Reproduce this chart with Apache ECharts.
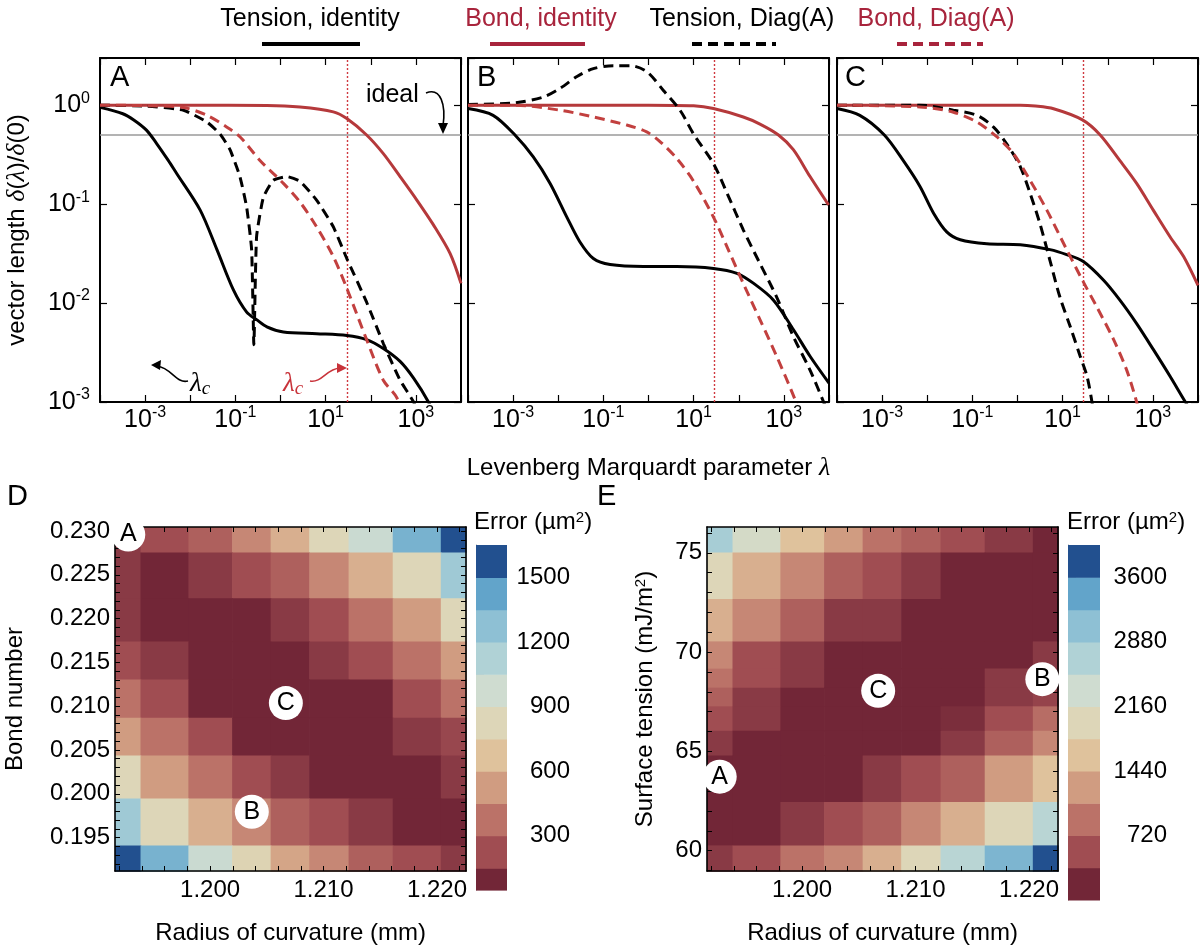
<!DOCTYPE html>
<html>
<head>
<meta charset="utf-8">
<script src="https://cdn.jsdelivr.net/npm/echarts@6.0.0/dist/echarts.min.js"></script>
<style>
html,body{margin:0;padding:0;background:#fff;}
#chart{width:1204px;height:946px;}
</style>
</head>
<body>
<div id="chart"></div>
<script>
// ======================= DATA =======================
const seriesNames = ['Tension, identity', 'Bond, identity', 'Tension, Diag(A)', 'Bond, Diag(A)'];
const panelNames = ['A', 'B', 'C'];

// [lambda, delta(lambda)/delta(0)]
const tensionIdentityA = [[1e-4,0.95],[3.2e-4,0.82],[5.6e-4,0.71],[1.07e-3,0.56],[1.8e-3,0.41],[3.2e-3,0.28],[5.0e-3,0.204],[1.66e-2,0.087],[3.9e-2,0.0347],[9.1e-2,0.0135],[0.178,8.1e-3],[0.295,6.8e-3],[0.50,5.75e-3],[1.16,5.1e-3],[6.3,4.9e-3],[29.5,4.7e-3],[81,4.27e-3],[190,3.47e-3],[447,2.57e-3],[890,1.74e-3],[1900,1.0e-3],[4000,5e-4]];
const bondIdentityA = [[1e-4,1.0],[1e-2,1.0],[0.5,0.995],[2.7,0.96],[14.8,0.857],[29.5,0.733],[81,0.50],[190,0.324],[447,0.19],[1050,0.11],[2450,0.0617],[5750,0.0316],[1e4,0.0158]];
const tensionDiagA = [[1e-4,1.0],[1.07e-3,0.98],[7.1e-3,0.89],[2.34e-2,0.676],[4.6e-2,0.51],[7.6e-2,0.355],[0.126,0.19],[0.178,0.093],[0.229,0.0347],[0.257,3.8e-3],[0.295,0.0468],[0.417,0.117],[0.69,0.174],[1.38,0.19],[2.7,0.17],[6.3,0.11],[14.8,0.059],[29.5,0.0282],[81,0.0102],[190,3.9e-3],[447,1.66e-3],[890,1.0e-3],[1600,5e-4]];
const bondDiagA = [[1e-4,1.0],[1.07e-3,0.99],[7.1e-3,0.946],[2.34e-2,0.79],[6.5e-2,0.60],[0.126,0.48],[0.355,0.275],[1.16,0.162],[2.7,0.105],[6.3,0.059],[14.8,0.0295],[29.5,0.0141],[81,4.27e-3],[190,1.66e-3],[380,1.1e-3],[630,5e-4]];

const tensionIdentityB = [[1e-4,0.925],[3.6e-4,0.79],[1.1e-3,0.50],[2.8e-3,0.30],[6.6e-3,0.162],[1.55e-2,0.074],[3.0e-2,0.0417],[6.0e-2,0.0282],[0.141,0.0245],[0.776,0.0234],[4.27,0.0234],[27.5,0.0224],[91,0.020],[214,0.0158],[589,0.0107],[1620,5.4e-3],[3800,2.9e-3],[1e4,1.55e-3]];
const bondIdentityB = [[1e-4,1.0],[1e-2,1.0],[1,1.0],[10,0.985],[27.5,0.925],[126,0.76],[295,0.645],[760,0.50],[1620,0.355],[3800,0.19],[9800,0.098]];
const tensionDiagB = [[1e-4,1.016],[1.1e-3,1.057],[4.7e-3,1.21],[1.1e-2,1.48],[2.6e-2,1.95],[6.0e-2,2.34],[0.166,2.51],[0.39,2.51],[0.91,2.19],[2.14,1.41],[5.0,0.89],[10,0.51],[27.5,0.257],[55,0.129],[126,0.055],[295,0.0251],[692,0.0115],[1620,4.6e-3],[3800,2.1e-3],[7600,1.0e-3],[1.2e4,6e-4]];
const bondDiagB = [[1e-4,1.0],[1.1e-3,1.0],[1.1e-2,0.89],[6.0e-2,0.76],[0.33,0.63],[0.91,0.537],[1.82,0.427],[4.27,0.288],[10,0.17],[27.5,0.074],[55,0.037],[126,0.0158],[295,6.8e-3],[692,2.9e-3],[1780,1.05e-3],[3160,5e-4]];

const tensionIdentityC = [[1e-4,0.925],[3.2e-4,0.79],[1.12e-3,0.50],[2.95e-3,0.275],[6.9e-3,0.151],[1.38e-2,0.081],[2.7e-2,0.0525],[5.4e-2,0.0437],[0.209,0.0398],[1.15,0.0389],[5.25,0.0347],[12.3,0.0309],[28.8,0.0263],[81,0.017],[186,0.0107],[437,6.2e-3],[1020,3.4e-3],[2400,1.82e-3],[5250,1.0e-3],[1e4,6.3e-4]];
const bondIdentityC = [[1e-4,1.0],[1e-2,1.0],[1.15,1.0],[2.5,0.98],[6.3,0.92],[27.5,0.71],[68,0.50],[186,0.275],[437,0.162],[1020,0.087],[2400,0.0468],[4800,0.0295],[1e4,0.0151]];
const tensionDiagC = [[1e-4,1.0],[6.9e-3,1.0],[3.8e-2,0.89],[0.126,0.79],[0.295,0.60],[0.575,0.407],[1.15,0.24],[1.9,0.129],[3.16,0.063],[5.25,0.0269],[8.7,0.0115],[14.8,5.75e-3],[24.5,2.9e-3],[34.7,1.82e-3],[44.7,1.0e-3],[56,5e-4]];
const bondDiagC = [[1e-4,1.0],[6.9e-3,0.96],[3.8e-2,0.85],[0.126,0.676],[0.347,0.48],[0.81,0.324],[1.9,0.174],[4.47,0.087],[12.3,0.0347],[27.5,0.017],[57.5,9.1e-3],[135,4.27e-3],[263,2.1e-3],[437,1.0e-3],[630,5e-4]];

const lambdaCritTension = [1.1e-3, 1.1e-3, 1.1e-3];
const lambdaCritBond = [30, 28, 29];
const idealLevel = 0.5;

// Heatmaps: cell edges (data units) and error values (rows listed top -> bottom)
const radiusEdges = [1.19162, 1.19387, 1.19809, 1.20194, 1.20534, 1.20874, 1.21221, 1.21610, 1.22034, 1.22256];
const bondEdges = [0.23046, 0.22754, 0.22231, 0.21738, 0.21304, 0.20867, 0.20438, 0.19945, 0.19409, 0.19118];
const errorD = [
  [150, 225, 300, 450, 600, 825, 1000, 1350, 1575],
  [150, 75, 150, 225, 300, 450, 600, 825, 1200],
  [150, 75, 75, 75, 150, 225, 375, 525, 825],
  [225, 150, 75, 75, 75, 150, 225, 375, 525],
  [375, 225, 75, 75, 75, 75, 75, 225, 375],
  [525, 375, 225, 75, 75, 75, 75, 150, 200],
  [825, 525, 375, 225, 150, 75, 75, 75, 150],
  [1200, 825, 600, 450, 300, 225, 150, 75, 75],
  [1575, 1350, 1000, 800, 560, 450, 300, 225, 150]
];
const tensionEdges = [76.30, 75.02, 72.68, 70.54, 69.17, 68.21, 67.27, 66.04, 64.80, 62.46, 60.27, 58.98];
const errorE = [
  [2800, 2200, 1620, 1260, 900, 720, 540, 360, 180],
  [1980, 1440, 1080, 720, 540, 360, 180, 180, 180],
  [1440, 1080, 720, 360, 360, 180, 180, 180, 180],
  [1080, 540, 360, 180, 180, 180, 180, 180, 360],
  [900, 540, 360, 180, 180, 180, 180, 360, 360],
  [720, 360, 180, 180, 180, 180, 180, 360, 450],
  [540, 360, 180, 180, 180, 180, 250, 540, 850],
  [360, 180, 180, 180, 180, 180, 360, 720, 1080],
  [180, 180, 180, 180, 360, 540, 720, 1260, 1620],
  [180, 180, 360, 540, 720, 1080, 1440, 1980, 2600],
  [360, 540, 900, 1080, 1440, 1980, 2600, 3200, 3780]
];
const radiusTickLabels = [1.200, 1.210, 1.220];
const bondTickLabels = [0.195, 0.200, 0.205, 0.210, 0.215, 0.220, 0.225, 0.230];
const tensionTickLabels = [60, 65, 70, 75];
const errorBinEdgesD = [48, 150, 300, 450, 600, 750, 900, 1050, 1200, 1350, 1500, 1650];
const errorBinEdgesE = [0, 360, 720, 1080, 1440, 1800, 2160, 2520, 2880, 3240, 3600, 3960];
const errorLabelsD = [300, 600, 900, 1200, 1500];
const errorLabelsE = [720, 1440, 2160, 2880, 3600];
const palette = ['#722637','#a04d52','#bb7268','#d09c81','#dfc29c','#ddd6b8','#cfdcd0','#b0d2d6','#8ec0d4','#62a4ca','#22508f'];
const markersD = [['A', 1.19279, 0.2296], ['B', 1.20368, 0.19795], ['C', 1.20668, 0.21035]];
const markersE = [['A', 1.19274, 63.73], ['B', 1.22118, 68.64], ['C', 1.20671, 68.05]];

// ======================= CHART =======================
const FONT = '"Liberation Sans", Arial, Helvetica, sans-serif';
const SERIF = '"Liberation Serif", "DejaVu Serif", serif';
const RED = '#b5393b';
const RED2 = '#c2403f';
const LEG_RED = '#a8243c';
const FS = 24;   // general text size
const TFS = 24;  // tick label size

const grids = [], xAxes = [], yAxes = [], series = [];

function logFmt(showEven) {
  return function (v) {
    const e = Math.round(Math.log10(v));
    if (Math.abs(v / Math.pow(10, e) - 1) > 1e-6) return '';
    if (!showEven && e % 2 === 0) return '';
    return '{b|10}{s|' + e + '}';
  };
}
const logRich = {
  b: {fontSize: 25, fontFamily: FONT, color: '#000', lineHeight: 30},
  s: {fontSize: 16, fontFamily: FONT, color: '#000', lineHeight: 17, verticalAlign: 'top'}
};
const italicRich = {i: {fontStyle: 'italic', fontFamily: SERIF, fontSize: 26, color: '#000'}};

const topLeft = [100, 468, 837];
const panelSeries = [
  [tensionIdentityA, bondIdentityA, tensionDiagA, bondDiagA],
  [tensionIdentityB, bondIdentityB, tensionDiagB, bondDiagB],
  [tensionIdentityC, bondIdentityC, tensionDiagC, bondDiagC]
];
const lineStyles = [
  {color: '#000', type: 'solid'},
  {color: RED, type: 'solid'},
  {color: '#000', type: [10, 6]},
  {color: RED2, type: [10, 6]}
];

topLeft.forEach((left, i) => {
  const gi = grids.length;
  grids.push({left: left, top: 58, width: 361, height: 344});
  const xi = xAxes.length, yi = yAxes.length;
  const baseX = {gridIndex: gi, type: 'log', logBase: 10, min: 1e-4, max: 1e4, splitLine: {show: false},
    axisLine: {onZero: false, lineStyle: {color: '#000', width: 2}},
    axisTick: {inside: true, length: 7, lineStyle: {color: '#000', width: 1.2}}};
  xAxes.push(Object.assign({}, baseX, {position: 'bottom',
    axisLabel: {formatter: logFmt(false), margin: 3, rich: logRich},
    name: i === 1 ? 'Levenberg Marquardt parameter {i|λ}' : '', nameLocation: 'middle', nameGap: 53,
    nameTextStyle: {fontSize: FS, fontFamily: FONT, color: '#000', rich: italicRich}}));
  xAxes.push(Object.assign({}, baseX, {position: 'top', axisLabel: {show: false}}));
  const baseY = {gridIndex: gi, type: 'log', logBase: 10, min: 1e-3, max: 3, splitLine: {show: false},
    axisLine: {onZero: false, lineStyle: {color: '#000', width: 2}},
    axisTick: {inside: true, length: 7, lineStyle: {color: '#000', width: 1.2}}};
  yAxes.push(Object.assign({}, baseY, {position: 'left',
    axisLabel: {show: i === 0, formatter: logFmt(true), margin: 10, rich: logRich},
    name: i === 0 ? 'vector length {i|δ}({i|λ})/{i|δ}(0)' : '', nameLocation: 'middle', nameGap: 70, nameRotate: 90,
    nameTextStyle: {fontSize: FS, fontFamily: FONT, color: '#000', rich: italicRich}}));
  yAxes.push(Object.assign({}, baseY, {position: 'right', axisLabel: {show: false}}));

  panelSeries[i].forEach((d, k) => {
    const s = {
      type: 'line', name: seriesNames[k], xAxisIndex: xi, yAxisIndex: yi, data: d,
      showSymbol: false, symbol: 'none', smooth: (i === 0 && k === 2) ? 0.15 : 0.3,
      lineStyle: {color: lineStyles[k].color, type: lineStyles[k].type, width: 3},
      z: 3, silent: true, animation: false
    };
    if (k === 0) {
      s.markLine = {
        symbol: 'none', silent: true, z: 1, animation: false, label: {show: false},
        data: [
          {yAxis: idealLevel, lineStyle: {color: '#9a9a9a', type: 'solid', width: 1.6}},
          {xAxis: lambdaCritTension[i], lineStyle: {color: '#000', type: [2, 2], width: 1.4}},
          {xAxis: lambdaCritBond[i], lineStyle: {color: '#cf3a40', type: [2, 2], width: 1.4}}
        ]
      };
    }
    series.push(s);
  });
});

// --------- heatmaps ---------
function cells(xEdges, yEdges, rows) {
  const out = [];
  rows.forEach((row, r) => row.forEach((v, c) => out.push([xEdges[c], xEdges[c + 1], yEdges[r + 1], yEdges[r], v])));
  return out;
}
function renderCell(params, api) {
  const a = api.coord([api.value(0), api.value(3)]);
  const b = api.coord([api.value(1), api.value(2)]);
  return {type: 'rect', shape: {x: a[0], y: a[1], width: b[0] - a[0] + 0.7, height: b[1] - a[1] + 0.7},
    style: {fill: api.visual('color')}};
}
function steps(a, b, s) { const o = []; for (let v = a; v <= b + s / 10; v += s) o.push(+v.toFixed(4)); return o; }

const heatDefs = [
  {left: 115, yEdges: bondEdges, rows: errorD, yLabels: bondTickLabels, yTicks: steps(0.192, 0.230, 0.001),
   yFmt: v => v.toFixed(3), yName: 'Bond number', yGap: 88, markers: markersD},
  {left: 707, yEdges: tensionEdges, rows: errorE, yLabels: tensionTickLabels, yTicks: steps(59, 76, 1),
   yFmt: v => String(v), yName: 'Surface tension (mJ/m{sup|2})', yGap: 50, markers: markersE}
];
const heatSeriesIdx = [];
heatDefs.forEach((h) => {
  const gi = grids.length;
  grids.push({left: h.left, top: 527, width: 351, height: 351});
  const xi = xAxes.length, yi = yAxes.length;
  const xTicks = steps(1.192, 1.222, 0.002);
  const ymin = h.yEdges[h.yEdges.length - 1], ymax = h.yEdges[0];
  const baseX = {gridIndex: gi, type: 'value', min: radiusEdges[0], max: radiusEdges[radiusEdges.length - 1], z: 5,
    splitLine: {show: false}, axisLine: {onZero: false, lineStyle: {color: '#000', width: 1.6}},
    axisTick: {inside: true, length: 5, customValues: xTicks, lineStyle: {color: '#000', width: 1}}};
  xAxes.push(Object.assign({}, baseX, {position: 'bottom',
    axisLabel: {customValues: radiusTickLabels, formatter: v => v.toFixed(3), fontSize: TFS, fontFamily: FONT, color: '#000', margin: 7},
    name: 'Radius of curvature (mm)', nameLocation: 'middle', nameGap: 50,
    nameTextStyle: {fontSize: FS, fontFamily: FONT, color: '#000'}}));
  xAxes.push(Object.assign({}, baseX, {position: 'top', axisLabel: {show: false}}));
  const baseY = {gridIndex: gi, type: 'value', min: ymin, max: ymax, z: 5,
    splitLine: {show: false}, axisLine: {onZero: false, lineStyle: {color: '#000', width: 1.6}},
    axisTick: {inside: true, length: 5, customValues: h.yTicks, lineStyle: {color: '#000', width: 1}}};
  yAxes.push(Object.assign({}, baseY, {position: 'left',
    axisLabel: {customValues: h.yLabels, formatter: h.yFmt, fontSize: TFS, fontFamily: FONT, color: '#000', margin: 5},
    name: h.yName, nameLocation: 'middle', nameGap: h.yGap, nameRotate: 90,
    nameTextStyle: {fontSize: FS, fontFamily: FONT, color: '#000', rich: {sup: {fontSize: 15, fontFamily: FONT, verticalAlign: 'top', lineHeight: 13}}}}));
  yAxes.push(Object.assign({}, baseY, {position: 'right', axisLabel: {show: false}}));
  heatSeriesIdx.push(series.length);
  series.push({type: 'custom', xAxisIndex: xi, yAxisIndex: yi, renderItem: renderCell,
    encode: {x: [0, 1], y: [2, 3]}, data: cells(radiusEdges, h.yEdges, h.rows), z: 2, silent: true, animation: false});
  series.push({type: 'scatter', xAxisIndex: xi, yAxisIndex: yi, clip: false, z: 10, silent: true, animation: false,
    symbolSize: 34, itemStyle: {color: '#fff', opacity: 1},
    data: h.markers.map(m => ({value: [m[1], m[2]], name: m[0]})),
    label: {show: true, position: 'inside', formatter: p => p.name, fontSize: 25, fontFamily: FONT, color: '#000'}});
});

// --------- colorbars ---------
const cbDefs = [
  {left: 476, top: 545, width: 31, height: 345, edges: errorBinEdgesD, labels: errorLabelsD, margin: 63},
  {left: 1068, top: 545, width: 32, height: 355, edges: errorBinEdgesE, labels: errorLabelsE, margin: 67}
];
cbDefs.forEach((c) => {
  const gi = grids.length;
  grids.push({left: c.left, top: c.top, width: c.width, height: c.height});
  const xi = xAxes.length, yi = yAxes.length;
  xAxes.push({gridIndex: gi, type: 'value', min: 0, max: 1, show: false});
  yAxes.push({gridIndex: gi, type: 'value', position: 'right', min: c.edges[0], max: c.edges[c.edges.length - 1],
    splitLine: {show: false}, axisLine: {show: true, lineStyle: {color: '#999', width: 1}},
    axisTick: {show: true, inside: false, length: 8, customValues: c.edges.slice(1, -1), lineStyle: {color: '#bbb', width: 1}},
    axisLabel: {customValues: c.labels, formatter: v => String(v), align: 'right', margin: c.margin, fontSize: TFS, fontFamily: FONT, color: '#000'}});
  const data = [];
  for (let k = 0; k < c.edges.length - 1; k++) data.push([c.edges[k], c.edges[k + 1], k]);
  series.push({type: 'custom', xAxisIndex: xi, yAxisIndex: yi, silent: true, animation: false, z: 2,
    encode: {y: [0, 1]}, data: data,
    renderItem: function (params, api) {
      const a = api.coord([0, api.value(1)]);
      const b = api.coord([1, api.value(0)]);
      return {type: 'rect', shape: {x: a[0], y: a[1], width: b[0] - a[0], height: b[1] - a[1] + 0.6},
        style: {fill: palette[api.value(2)]}};
    }});
});

// --------- graphics (legend, letters, annotations) ---------
const g = [];
function txt(x, y, text, opts) {
  g.push(Object.assign({type: 'text', x: x, y: y, z: 100, silent: true,
    style: Object.assign({text: text, fontSize: FS, fontFamily: FONT, fill: '#000', textAlign: 'left', textVerticalAlign: 'middle'}, opts || {})}));
}
// legend
const legendLayout = [
  {tx: 310, x1: 262, x2: 360, color: '#000', dash: null},
  {tx: 541, x1: 490, x2: 585, color: LEG_RED, dash: null},
  {tx: 742, x1: 692, x2: 776, color: '#000', dash: [10, 6]},
  {tx: 936, x1: 897, x2: 983, color: LEG_RED, dash: [10, 6]}
];
legendLayout.forEach((L, k) => {
  txt(L.tx, 19, seriesNames[k], {textAlign: 'center', fill: L.color, fontSize: 25});
  g.push({type: 'line', z: 100, silent: true, shape: {x1: L.x1, y1: 44, x2: L.x2, y2: 44},
    style: {stroke: L.color, lineWidth: 4, lineDash: L.dash}});
});
// panel letters
[[110, 'A'], [477, 'B'], [845, 'C']].forEach(p => txt(p[0], 78, p[1], {fontSize: 29}));
txt(7, 497, 'D', {fontSize: 29});
txt(597, 497, 'E', {fontSize: 29});
// colorbar titles
const supRich = {s: {fontSize: 15, fontFamily: FONT, verticalAlign: 'top', lineHeight: 13}};
txt(474, 522, 'Error (µm{s|2})', {rich: supRich});
txt(1067, 522, 'Error (µm{s|2})', {rich: JSON.parse(JSON.stringify(supRich))});
// "ideal" annotation
txt(366, 95, 'ideal', {fontSize: 25});
g.push({type: 'bezierCurve', z: 100, silent: true,
  shape: {x1: 426, y1: 93, cpx1: 441, cpy1: 87, cpx2: 446, cpy2: 105, x2: 443, y2: 126},
  style: {stroke: '#000', lineWidth: 1.6, fill: null}});
g.push({type: 'polygon', z: 100, silent: true, shape: {points: [[438, 123], [448, 123], [443, 134]]}, style: {fill: '#000'}});
// lambda_c annotations
const lamRich = {
  l: {fontStyle: 'italic', fontFamily: SERIF, fontSize: 27, lineHeight: 28},
  c: {fontStyle: 'italic', fontFamily: SERIF, fontSize: 19, lineHeight: 14, verticalAlign: 'bottom'}
};
txt(190, 384, '{l|λ}{c|c}', {rich: lamRich, fill: '#000'});
txt(283, 384, '{l|λ}{c|c}', {rich: JSON.parse(JSON.stringify(lamRich)), fill: '#c8333a'});
g.push({type: 'bezierCurve', z: 100, silent: true,
  shape: {x1: 188, y1: 381, cpx1: 176, cpy1: 384, cpx2: 172, cpy2: 368, x2: 157, y2: 366},
  style: {stroke: '#000', lineWidth: 1.6, fill: null}});
g.push({type: 'polygon', z: 100, silent: true, shape: {points: [[151, 365], [161, 360], [160, 370]]}, style: {fill: '#000'}});
g.push({type: 'bezierCurve', z: 100, silent: true,
  shape: {x1: 310, y1: 381, cpx1: 322, cpy1: 383, cpx2: 326, cpy2: 369, x2: 340, y2: 368},
  style: {stroke: '#c8333a', lineWidth: 1.6, fill: null}});
g.push({type: 'polygon', z: 100, silent: true, shape: {points: [[347, 368], [337, 363], [337, 373]]}, style: {fill: '#c8333a'}});

const option = {
  animation: false,
  backgroundColor: '#fff',
  textStyle: {fontFamily: FONT},
  grid: grids,
  xAxis: xAxes,
  yAxis: yAxes,
  visualMap: [
    {type: 'continuous', show: false, seriesIndex: heatSeriesIdx[0], dimension: 4, min: 75, max: 1575, inRange: {color: palette}},
    {type: 'continuous', show: false, seriesIndex: heatSeriesIdx[1], dimension: 4, min: 180, max: 3780, inRange: {color: palette}}
  ],
  series: series,
  graphic: g
};
const chart = echarts.init(document.getElementById('chart'), null, {renderer: 'canvas'});
chart.setOption(option);
</script>
</body>
</html>
